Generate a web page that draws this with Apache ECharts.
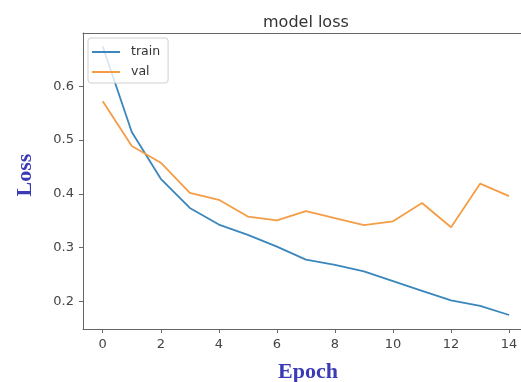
<!DOCTYPE html>
<html>
<head>
<meta charset="utf-8">
<script src="https://cdn.jsdelivr.net/npm/echarts@6/dist/echarts.min.js"></script>
<style>
  html, body { margin: 0; padding: 0; background: #fff; }
  #chart { width: 521px; height: 382px; }
</style>
</head>
<body>
<div id="chart"></div>
<script>
// Data
const epochs = [0, 1, 2, 3, 4, 5, 6, 7, 8, 9, 10, 11, 12, 13, 14];
const trainLoss = [0.674, 0.515, 0.428, 0.374, 0.343, 0.324, 0.302, 0.278, 0.268, 0.256, 0.238, 0.220, 0.202, 0.192, 0.175];
const valLoss = [0.572, 0.489, 0.458, 0.402, 0.389, 0.358, 0.351, 0.368, 0.355, 0.342, 0.349, 0.383, 0.338, 0.419, 0.396];
const xTicks = [0, 2, 4, 6, 8, 10, 12, 14];
const yTicks = [0.2, 0.3, 0.4, 0.5, 0.6];
const seriesNames = ['train', 'val'];

const chart = echarts.init(document.getElementById('chart'), null, { renderer: 'canvas' });

const pairs = (xs, ys) => xs.map((x, i) => [x, ys[i]]);

const tickFont = { color: '#444', fontSize: 13, fontFamily: 'DejaVu Sans' };
const X_MIN = -0.68, X_MAX = 14.41;

chart.setOption({
  animation: false,
  backgroundColor: '#fff',
  title: {
    text: 'model loss',
    left: 258,
    top: 10,
    textStyle: { color: '#333', fontSize: 16, fontWeight: 'normal', fontFamily: 'DejaVu Sans' }
  },
  grid: { left: 83, top: 33, right: 0, bottom: 53, show: false, containLabel: false, outerBoundsMode: 'none' },
  legend: {
    data: seriesNames,
    orient: 'vertical',
    left: 88, top: 38,
    padding: [7, 8, 4, 4],
    itemGap: 6,
    itemWidth: 28,
    itemHeight: 2,
    icon: 'rect',
    backgroundColor: 'rgba(255,255,255,0.8)',
    borderColor: '#d0d0d0',
    borderWidth: 1,
    borderRadius: 3,
    textStyle: { color: '#333', fontSize: 12.5, fontFamily: 'DejaVu Sans', lineHeight: 14, padding: [0, 0, 0, 6] },
    z: 10
  },
  xAxis: [
    {
      type: 'value',
      min: X_MIN, max: X_MAX,
      name: 'Epoch',
      nameLocation: 'middle',
      nameGap: 32,
      nameTextStyle: { color: '#3b3bb5', fontSize: 22, fontWeight: 'bold', fontFamily: 'Liberation Serif', padding: [0, 0, 0, 12] },
      axisLine: { show: true, onZero: false, lineStyle: { color: '#666', width: 1 } },
      axisTick: { show: true, inside: false, length: 4, customValues: xTicks, lineStyle: { color: '#666' } },
      axisLabel: { show: true, margin: 9, customValues: xTicks, formatter: v => String(Math.round(v)), ...tickFont },
      splitLine: { show: false }
    },
    {
      type: 'value',
      position: 'top',
      min: X_MIN, max: X_MAX,
      axisLine: { show: true, onZero: false, lineStyle: { color: '#666', width: 1 } },
      axisTick: { show: false },
      axisLabel: { show: false },
      splitLine: { show: false }
    }
  ],
  yAxis: {
    type: 'value',
    min: 0.149, max: 0.699,
    name: 'Loss',
    nameLocation: 'middle',
    nameRotate: 90,
    nameGap: 47,
    nameTextStyle: { color: '#3b3bb5', fontSize: 22, fontWeight: 'bold', fontFamily: 'Liberation Serif', padding: [0, 0, 0, 12] },
    axisLine: { show: true, onZero: false, lineStyle: { color: '#666', width: 1 } },
    axisTick: { show: true, inside: false, length: 4, customValues: yTicks, lineStyle: { color: '#666' } },
    axisLabel: { show: true, margin: 9, customValues: yTicks, formatter: v => v.toFixed(1), ...tickFont },
    splitLine: { show: false }
  },
  series: [
    {
      name: seriesNames[0], type: 'line', xAxisIndex: 0, data: pairs(epochs, trainLoss),
      symbol: 'none', color: '#3a86bd', lineStyle: { width: 1.8, color: '#3a86bd' }, z: 2
    },
    {
      name: seriesNames[1], type: 'line', xAxisIndex: 0, data: pairs(epochs, valLoss),
      symbol: 'none', color: '#f59d45', lineStyle: { width: 1.8, color: '#f59d45' }, z: 3
    }
  ]
});
</script>
</body>
</html>
